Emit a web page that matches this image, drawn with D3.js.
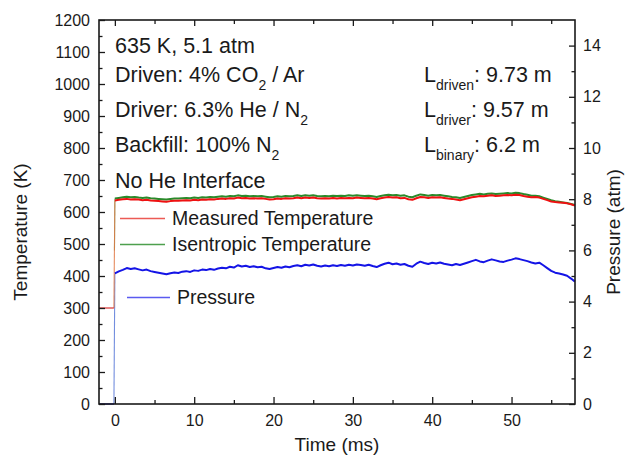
<!DOCTYPE html>
<html>
<head>
<meta charset="utf-8">
<script src="https://cdn.jsdelivr.net/npm/d3@7"></script>
<style>
  html, body { margin: 0; padding: 0; background: #fff; }
  svg { display: block; font-family: "Liberation Sans", Arial, sans-serif; }
</style>
</head>
<body>
<svg id="chart" width="626" height="457"></svg>
<script>
// Shock-tube test: 635 K, 5.1 atm. Time in ms, temperatures in K, pressure in atm.

// Before the shock arrives
const preTime = [-2.0, -1.0, -0.12];
const preMeasured = [300, 300, 300];
const prePressure = [0, 0, 0];

// After the shock (t >= 0)
const time = [
  0, 0.5, 1, 1.5, 2, 2.5, 3, 3.5, 4, 4.5, 5, 5.5, 6, 6.5, 7, 7.5, 8, 8.5, 9, 9.5,
  10, 10.5, 11, 11.5, 12, 12.5, 13, 13.5, 14, 14.5, 15, 15.5, 16, 16.5, 17, 17.5, 18, 18.5, 19, 19.5,
  20, 20.5, 21, 21.5, 22, 22.5, 23, 23.5, 24, 24.5, 25, 25.5, 26, 26.5, 27, 27.5, 28, 28.5, 29, 29.5,
  30, 30.5, 31, 31.5, 32, 32.5, 33, 33.5, 34, 34.5, 35, 35.5, 36, 36.5, 37, 37.5, 38, 38.5, 39, 39.5,
  40, 40.5, 41, 41.5, 42, 42.5, 43, 43.5, 44, 44.5, 45, 45.5, 46, 46.5, 47, 47.5, 48, 48.5, 49, 49.5,
  50, 50.5, 51, 51.5, 52, 52.5, 53, 53.5, 54, 54.5, 55, 55.5, 56, 56.5, 57, 57.5, 58
];

const measuredTemp = [
  636, 638, 640, 641, 639, 640, 639, 637, 638, 636, 635, 634, 633, 632, 634, 635, 635, 636, 637, 636,
  638, 637, 639, 638, 640, 639, 641, 642, 641, 643, 642, 645, 643, 644, 642, 643, 642, 643, 641, 639,
  640, 642, 641, 643, 642, 643, 645, 643, 645, 644, 645, 643, 642, 643, 642, 644, 642, 644, 643, 644,
  643, 645, 644, 643, 644, 642, 640, 643, 645, 647, 645, 646, 643, 644, 640, 638, 643, 647, 646, 644,
  646, 645, 646, 644, 642, 641, 639, 637, 640, 643, 646, 648, 650, 649, 651, 652, 650, 651, 652, 653,
  652, 654, 653, 650, 648, 646, 647, 645, 641, 637, 633, 631, 630, 629, 627, 624, 620
];

const isentropicTemp = [
  642, 644, 646, 648, 646, 647, 645, 644, 645, 643, 642, 641, 640, 639, 641, 642, 642, 643, 644, 643,
  645, 644, 646, 645, 647, 646, 648, 649, 648, 650, 649, 652, 650, 651, 649, 650, 649, 650, 648, 646,
  647, 649, 648, 650, 649, 650, 652, 650, 652, 651, 652, 650, 649, 650, 649, 651, 650, 651, 650, 652,
  651, 652, 651, 650, 651, 649, 647, 650, 652, 654, 652, 653, 651, 652, 648, 646, 651, 655, 653, 651,
  653, 652, 653, 651, 649, 647, 646, 644, 647, 650, 653, 655, 657, 655, 657, 658, 656, 657, 658, 659,
  658, 660, 659, 656, 654, 651, 651, 649, 645, 641, 637, 634, 632, 630, 628, 625, 622
];

const pressure = [
  5.10, 5.18, 5.24, 5.31, 5.27, 5.30, 5.26, 5.22, 5.25, 5.19, 5.16, 5.13, 5.10, 5.07, 5.11, 5.14, 5.12, 5.17, 5.19, 5.16,
  5.22, 5.20, 5.25, 5.23, 5.27, 5.24, 5.29, 5.32, 5.30, 5.36, 5.33, 5.42, 5.37, 5.40, 5.35, 5.38, 5.34, 5.36, 5.30, 5.27,
  5.31, 5.35, 5.32, 5.37, 5.34, 5.39, 5.42, 5.38, 5.44, 5.41, 5.45, 5.40, 5.37, 5.41, 5.38, 5.42, 5.39, 5.43, 5.40, 5.44,
  5.41, 5.45, 5.43, 5.40, 5.44, 5.39, 5.35, 5.42, 5.48, 5.52, 5.46, 5.49, 5.44, 5.47, 5.40, 5.36, 5.48, 5.56, 5.51, 5.47,
  5.52, 5.49, 5.53, 5.48, 5.45, 5.42, 5.47, 5.43, 5.48, 5.53, 5.58, 5.63, 5.57, 5.54, 5.60, 5.65, 5.61, 5.57, 5.55, 5.60,
  5.64, 5.69, 5.66, 5.62, 5.58, 5.53, 5.49, 5.52, 5.42, 5.31, 5.20, 5.13, 5.10, 5.06, 5.01, 4.90, 4.78
];

// Isentropic trace begins at the shock arrival
const isentropicStart = { t: -0.05, v: 480 };

// Axis ticks
const tempTicks = [0, 100, 200, 300, 400, 500, 600, 700, 800, 900, 1000, 1100, 1200];
const tempMinor = [50, 150, 250, 350, 450, 550, 650, 750, 850, 950, 1050, 1150];
const pressTicks = [0, 2, 4, 6, 8, 10, 12, 14];
const pressMinor = [1, 3, 5, 7, 9, 11, 13];
const timeTicks = [0, 10, 20, 30, 40, 50];
const timeMinor = [5, 15, 25, 35, 45, 55];

// Legend entries and annotation lines
const legendItems = [
  { label: "Measured Temperature", color: "#ec5a55" },
  { label: "Isentropic Temperature", color: "#4ea04e" },
  { label: "Pressure", color: "#5a5af0" }
];

const conditions = [
  [["635 K, 5.1 atm", false]],
  [["Driven: 4% CO", false], ["2", true], [" / Ar", false]],
  [["Driver: 6.3% He / N", false], ["2", true]],
  [["Backfill: 100% N", false], ["2", true]],
  [["No He Interface", false]]
];
const lengths = [
  [["L", false], ["driven", true], [": 9.73 m", false]],
  [["L", false], ["driver", true], [": 9.57 m", false]],
  [["L", false], ["binary", true], [": 6.2 m", false]]
];

// ---------------------------------------------------------------
const svg = d3.select("#chart");
const L = 99, R = 575, T = 20, B = 404;

const x = d3.scaleLinear().domain([-2, 58]).range([L, R]);
const yT = d3.scaleLinear().domain([0, 1200]).range([B, T]);
const yP = d3.scaleLinear().domain([0, 15]).range([B, T]);

const ink = "#1a1a1a";

const preMeasuredPts = preTime.map((t, i) => [t, preMeasured[i]]);
const prePressurePts = preTime.map((t, i) => [t, prePressure[i]]);
const measuredPts = time.map((t, i) => [t, measuredTemp[i]]);
const isentropicPts = time.map((t, i) => [t, isentropicTemp[i]]);
const pressurePts = time.map((t, i) => [t, pressure[i]]);

const lineT = d3.line().x(d => x(d[0])).y(d => yT(d[1]));
const lineP = d3.line().x(d => x(d[0])).y(d => yP(d[1]));

function trace(pts, gen, color, width, opacity) {
  svg.append("path").datum(pts).attr("d", gen)
    .attr("fill", "none").attr("stroke", color).attr("stroke-width", width)
    .attr("stroke-opacity", opacity).attr("stroke-linejoin", "round");
}

// Shock-arrival jumps: thin, faint rises
trace([prePressurePts[prePressurePts.length - 1], pressurePts[0]], lineP, "#5a7ad8", 1.1, 0.85);
trace([[isentropicStart.t, isentropicStart.v], isentropicPts[0]], lineT, "#6aa86a", 1.1, 0.8);
trace([preMeasuredPts[preMeasuredPts.length - 1], measuredPts[0]], lineT, "#e0703a", 1.1, 0.8);

// Pre-shock baselines
trace(prePressurePts, lineP, "#2020c8", 1.4, 1);
trace(preMeasuredPts, lineT, "#d83030", 1.2, 1);

// Main traces
trace(pressurePts, lineP, "#1414e6", 2, 1);
trace(isentropicPts, lineT, "#2a8a2a", 2, 1);
trace(measuredPts, lineT, "#ee1111", 2, 1);

// Axes (ticks pointing inward)
const fmt = d3.format("d");
function styleAxis(g) {
  g.select(".domain").remove();
  g.selectAll(".tick line").attr("stroke", ink).attr("stroke-width", 1.3);
  g.selectAll(".tick text").attr("fill", ink).attr("font-size", 16)
    .attr("font-family", "Liberation Sans, Arial, sans-serif");
}

svg.append("g").attr("transform", `translate(${L},0)`)
  .call(d3.axisLeft(yT).tickValues(tempTicks).tickFormat(fmt).tickSize(-6).tickPadding(9).tickSizeOuter(0))
  .call(styleAxis);
svg.append("g").attr("transform", `translate(${L},0)`)
  .call(d3.axisLeft(yT).tickValues(tempMinor).tickSize(-3.5).tickFormat(""))
  .call(styleAxis);

svg.append("g").attr("transform", `translate(${R},0)`)
  .call(d3.axisRight(yP).tickValues(pressTicks).tickFormat(fmt).tickSize(-6).tickPadding(8).tickSizeOuter(0))
  .call(styleAxis);
svg.append("g").attr("transform", `translate(${R},0)`)
  .call(d3.axisRight(yP).tickValues(pressMinor).tickSize(-3.5).tickFormat(""))
  .call(styleAxis);

svg.append("g").attr("transform", `translate(0,${B})`)
  .call(d3.axisBottom(x).tickValues(timeTicks).tickFormat(fmt).tickSize(-7).tickPadding(11).tickSizeOuter(0))
  .call(styleAxis);
svg.append("g").attr("transform", `translate(0,${B})`)
  .call(d3.axisBottom(x).tickValues(timeMinor).tickSize(-4).tickFormat(""))
  .call(styleAxis);

svg.append("g").attr("transform", `translate(0,${T})`)
  .call(d3.axisTop(x).tickValues(timeTicks).tickSize(-6).tickFormat(""))
  .call(styleAxis);
svg.append("g").attr("transform", `translate(0,${T})`)
  .call(d3.axisTop(x).tickValues(timeMinor).tickSize(-4).tickFormat(""))
  .call(styleAxis);

// Frame
svg.append("rect").attr("x", L).attr("y", T).attr("width", R - L).attr("height", B - T)
  .attr("fill", "none").attr("stroke", ink).attr("stroke-width", 1.6);

// Axis titles
svg.append("text").attr("x", (L + R) / 2).attr("y", 451)
  .attr("text-anchor", "middle").attr("font-size", 19).attr("fill", ink)
  .text("Time (ms)");
svg.append("text").attr("transform", "translate(27,232) rotate(-90)")
  .attr("text-anchor", "middle").attr("font-size", 19).attr("fill", ink)
  .text("Temperature (K)");
svg.append("text").attr("transform", "translate(620,232) rotate(-90)")
  .attr("text-anchor", "middle").attr("font-size", 19).attr("fill", ink)
  .text("Pressure (atm)");

// Annotations with subscripts
function richLine(parent, xPos, yPos, parts, size, subSize, subShift) {
  const t = parent.append("text").attr("x", xPos).attr("y", yPos)
    .attr("font-size", size).attr("fill", ink);
  let shifted = false;
  parts.forEach(([s, sub]) => {
    const ts = t.append("tspan").text(s);
    if (sub && !shifted) { ts.attr("dy", subShift).attr("font-size", subSize); shifted = true; }
    else if (!sub && shifted) { ts.attr("dy", -subShift); shifted = false; }
    else if (sub) ts.attr("font-size", subSize);
  });
}

const condY = [52.5, 82, 117, 152, 188];
conditions.forEach((parts, i) => richLine(svg, 115, condY[i], parts, 21.5, 14, 7.5));
const lenY = [82, 117, 152];
lengths.forEach((parts, i) => richLine(svg, 424, lenY[i], parts, 21.5, 14, 7.5));

// Legend
const legY = [225, 251, 304];
const legX = [172, 172, 177];
const legLine = [[120, 165], [120, 165], [127, 170]];
legendItems.forEach((d, i) => {
  svg.append("line").attr("x1", legLine[i][0]).attr("x2", legLine[i][1])
    .attr("y1", legY[i] - 6.5).attr("y2", legY[i] - 6.5)
    .attr("stroke", d.color).attr("stroke-width", 1.4);
  svg.append("text").attr("x", legX[i]).attr("y", legY[i])
    .attr("font-size", 19.5).attr("fill", ink).text(d.label);
});
</script>
</body>
</html>
